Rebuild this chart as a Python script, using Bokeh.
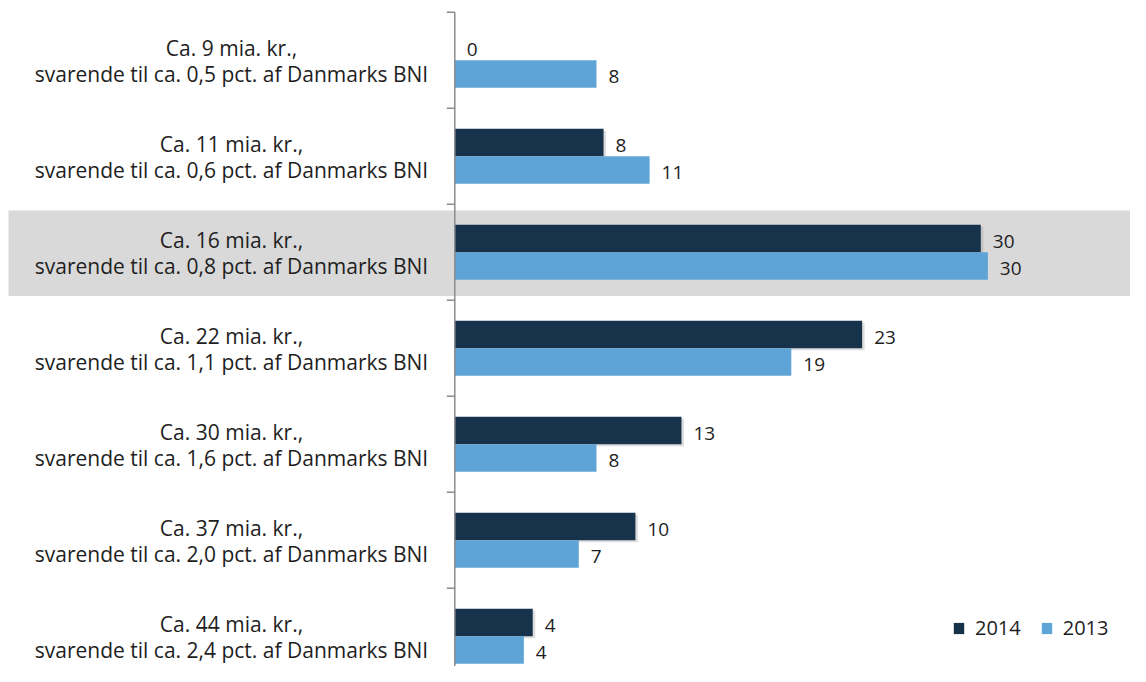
from bokeh.plotting import figure
from bokeh.models import Range1d, ColumnDataSource, BoxAnnotation, Legend, LegendItem
from bokeh.core.properties import value
from bokeh.embed import file_html
from bokeh.resources import INLINE

# ---- data ----
amounts = ["Ca. 9 mia. kr.,", "Ca. 11 mia. kr.,", "Ca. 16 mia. kr.,", "Ca. 22 mia. kr.,",
           "Ca. 30 mia. kr.,", "Ca. 37 mia. kr.,", "Ca. 44 mia. kr.,"]
shares = ["svarende til ca. 0,5 pct. af Danmarks BNI",
          "svarende til ca. 0,6 pct. af Danmarks BNI",
          "svarende til ca. 0,8 pct. af Danmarks BNI",
          "svarende til ca. 1,1 pct. af Danmarks BNI",
          "svarende til ca. 1,6 pct. af Danmarks BNI",
          "svarende til ca. 2,0 pct. af Danmarks BNI",
          "svarende til ca. 2,4 pct. af Danmarks BNI"]
v2014 = [0.0, 8.4, 29.7, 23.0, 12.8, 10.2, 4.4]
v2013 = [8.0, 11.0, 30.1, 19.0, 8.0, 7.0, 3.9]
lab2014 = ["0", "8", "30", "23", "13", "10", "4"]
lab2013 = ["8", "11", "30", "19", "8", "7", "4"]
series = ["2014", "2013"]
highlight_index = 2

# ---- style / geometry ----
W, H = 1130, 666
AXIS_X = 454.3          # px of value axis from left of figure
PX_PER_UNIT = 17.71
CAT_PX = 96.0
FIRST_CENTER = 59.7     # px from top of figure
BAR_PX = 27.5
FONT = "Open Sans"
TXT = "#1e1e1e"
DARK = "#17324b"
LIGHT = "#5fa4d6"
AXIS_COL = "#8c8c8c"

n = len(amounts)
idx = list(range(n))
bar_h = BAR_PX / CAT_PX
off = bar_h / 2

x_start = -AXIS_X / PX_PER_UNIT
x_end = (W - AXIS_X) / PX_PER_UNIT
y_top = -FIRST_CENTER / CAT_PX
y_bot = (H - FIRST_CENTER) / CAT_PX

p = figure(width=W, height=H, output_backend="svg", toolbar_location=None,
           x_range=Range1d(x_start, x_end), y_range=Range1d(y_bot, y_top),
           min_border=0, outline_line_color=None)
p.xaxis.visible = False
p.yaxis.visible = False
p.xgrid.visible = False
p.ygrid.visible = False
p.background_fill_color = "white"
p.border_fill_color = "white"

# highlight band
band = BoxAnnotation(top=highlight_index - 0.435, bottom=highlight_index + 0.457,
                     left=(8 - AXIS_X) / PX_PER_UNIT,
                     fill_color="#d9d9d9", fill_alpha=1.0, line_color=None, level="underlay")
p.add_layout(band)

src = ColumnDataSource(dict(
    y14=[i - off for i in idx], y13=[i + off for i in idx],
    v14=v2014, v13=v2013, l14=lab2014, l13=lab2013,
    amt=amounts, shr=shares, cat=idx,
))

# soft shadow for dark bars
sx = 2.5 / PX_PER_UNIT
sy = 2.0 / CAT_PX
shadow_src = ColumnDataSource(dict(y=[i - off + sy for i in idx],
                                   r=[v + sx if v > 0 else 0 for v in v2014]))
p.hbar(y="y", left=0, right="r", height=bar_h, source=shadow_src,
       fill_color="#7a7a7a", fill_alpha=0.25, line_color=None)

r14 = p.hbar(y="y14", left=0, right="v14", height=bar_h, source=src,
             fill_color=DARK, line_color=None)
r13 = p.hbar(y="y13", left=0, right="v13", height=bar_h, source=src,
             fill_color=LIGHT, line_color=None)

# value labels
for ycol, vcol, lcol in (("y14", "v14", "l14"), ("y13", "v13", "l13")):
    p.text(x=vcol, y=ycol, text=lcol, source=src, x_offset=12, y_offset=3,
           text_font=value(FONT), text_font_size="19px", text_color=TXT,
           text_baseline="middle", text_align="left")

# category labels (two lines, centred)
LABEL_CENTER_PX = 231.0
p.text(x=0, y="cat", text="amt", source=src, x_offset=LABEL_CENTER_PX - AXIS_X, y_offset=-12.5,
       text_font=value(FONT), text_font_size="21px", text_color=TXT,
       text_baseline="middle", text_align="center")
p.text(x=0, y="cat", text="shr", source=src, x_offset=LABEL_CENTER_PX - AXIS_X, y_offset=14,
       text_font=value(FONT), text_font_size="21px", text_color=TXT,
       text_baseline="middle", text_align="center")

# value axis line and category ticks
p.segment(x0=[0], y0=[-0.5], x1=[0], y1=[y_bot], line_color=AXIS_COL, line_width=1.5)
tick_len = 8 / PX_PER_UNIT
ticks = [i - 0.5 for i in range(n + 1)]
p.segment(x0=[-tick_len] * len(ticks), y0=ticks, x1=[0] * len(ticks), y1=ticks,
          line_color=AXIS_COL, line_width=1.5)

legend = Legend(items=[LegendItem(label=series[0], renderers=[r14]),
                       LegendItem(label=series[1], renderers=[r13])],
                orientation="horizontal", location=(952, 25),
                glyph_width=13, glyph_height=14, label_height=14,
                label_standoff=10, spacing=19, padding=0, margin=0,
                border_line_color=None, background_fill_alpha=0,
                label_text_font=FONT, label_text_font_size="20px",
                label_text_color=TXT)
p.add_layout(legend)

open("out.html", "w").write(file_html(p, INLINE))
